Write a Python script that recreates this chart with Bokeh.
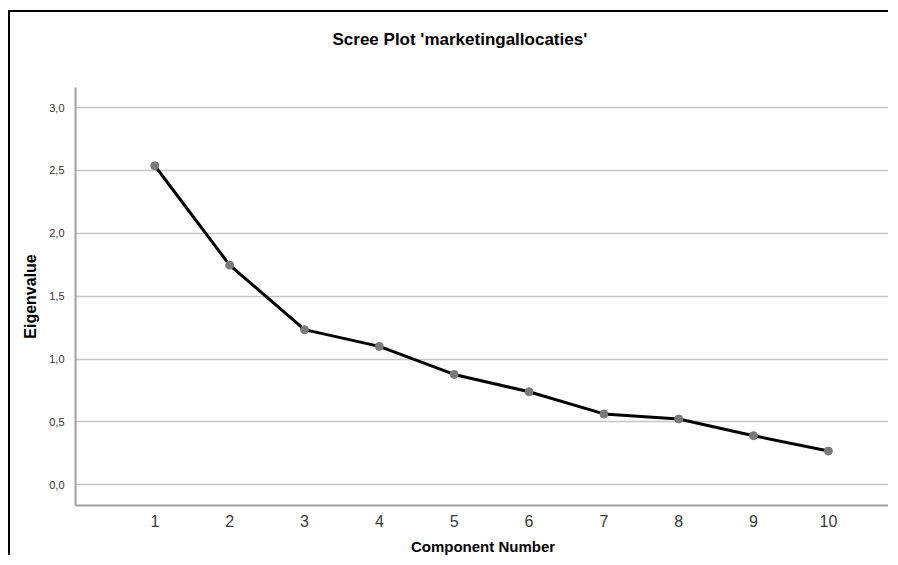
from bokeh.plotting import figure
from bokeh.models import FixedTicker, Range1d
from bokeh.embed import file_html
from bokeh.resources import INLINE

# Data
components = [1, 2, 3, 4, 5, 6, 7, 8, 9, 10]
eigenvalues = [2.537, 1.747, 1.234, 1.101, 0.878, 0.740, 0.564, 0.524, 0.391, 0.269]
y_ticks = [0.0, 0.5, 1.0, 1.5, 2.0, 2.5, 3.0]
y_tick_labels = ["0,0", "0,5", "1,0", "1,5", "2,0", "2,5", "3,0"]
x_ticks = [1, 2, 3, 4, 5, 6, 7, 8, 9, 10]
title_text = "Scree Plot 'marketingallocaties'"

FONT = "Liberation Sans"

p = figure(
    width=880, height=545,
    output_backend="svg", toolbar_location=None,
    x_range=Range1d(-0.06, 10.83), y_range=Range1d(-0.164, 3.159),
    min_border_left=65, min_border_right=0, min_border_top=75, min_border_bottom=52,
    title=title_text + "\n",
)
p.styles = {
    "margin-left": "8px", "margin-top": "10px",
    "border-left": "2px solid #000000", "border-top": "2px solid #000000",
}

p.background_fill_color = "white"
p.border_fill_color = "white"
p.outline_line_color = None

# title (an empty second line keeps it higher above the frame)
p.title.text_font = FONT
p.title.text_font_size = "17px"
p.title.text_font_style = "bold"
p.title.text_color = "#000000"
p.title.text_line_height = 1.25
p.title.align = "left"
p.title.offset = 257
p.title.standoff = 30

# grid
p.xgrid.grid_line_color = None
p.ygrid.grid_line_color = "#c4c4c4"
p.ygrid.grid_line_width = 1.5
p.ygrid.ticker = FixedTicker(ticks=y_ticks)

# axes
p.yaxis.ticker = FixedTicker(ticks=y_ticks)
p.yaxis.major_label_overrides = {t: l for t, l in zip(y_ticks, y_tick_labels)}
p.xaxis.ticker = FixedTicker(ticks=x_ticks)

for ax in (p.xaxis, p.yaxis):
    ax.axis_line_color = "#a0a0a0"
    ax.axis_line_width = 2
    ax.major_tick_line_color = None
    ax.minor_tick_line_color = None
    ax.major_label_text_font = FONT
    ax.axis_label_text_font = FONT
    ax.axis_label_text_font_style = "bold"
    ax.axis_label_text_color = "#000000"

p.yaxis.axis_label = "Eigenvalue"
p.yaxis.axis_label_text_font_size = "16px"
p.yaxis.major_label_text_font_size = "11px"
p.yaxis.major_label_text_color = "#333333"
p.yaxis.major_label_standoff = 5
p.yaxis.axis_label_standoff = 7

p.xaxis.axis_label = "Component Number"
p.xaxis.axis_label_text_font_size = "15px"
p.xaxis.major_label_text_font_size = "16px"
p.xaxis.major_label_text_color = "#3a3a3a"
p.xaxis.major_label_standoff = 3
p.xaxis.axis_label_standoff = 8

# data
p.line(components, eigenvalues, line_color="#000000", line_width=3)
p.scatter(components, eigenvalues, size=8, fill_color="#7a7a7a", line_color="#7a7a7a")

open("out.html", "w").write(file_html(p, INLINE))
